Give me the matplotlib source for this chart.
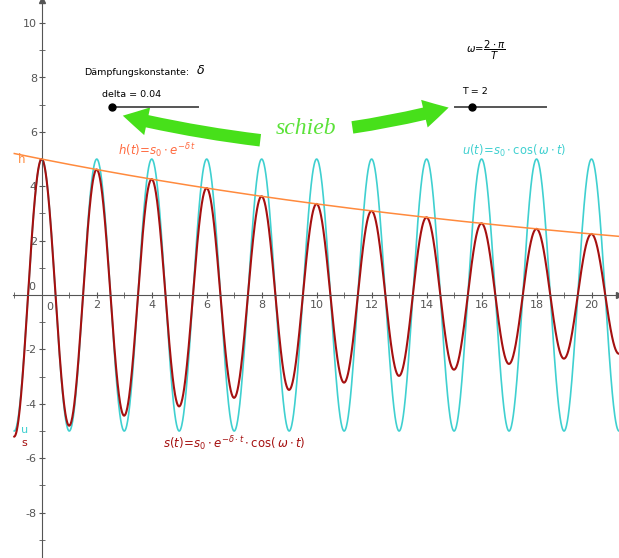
import numpy as np
import matplotlib.pyplot as plt
from matplotlib.patches import FancyArrowPatch

plt.rcParams["axes.unicode_minus"] = False

# Parameter (Schieberegler)
s0 = 5.0
delta = 0.04
T = 2
omega = 2 * np.pi / T

t_start, t_end = -1.0, 21.1
x_ticks = list(range(2, 21, 2))
y_ticks = [-8, -6, -4, -2, 2, 4, 6, 8, 10]

t = np.linspace(t_start, t_end, 2000)
h = s0 * np.exp(-delta * t)
u = s0 * np.cos(omega * t)
s = h * np.cos(omega * t)

cyan = "#3fd0d0"
red = "#a51010"
orange = "#ff8a3d"
green = "#47e01a"
grey = "#555555"

fig = plt.figure(figsize=(6.19, 5.58), dpi=100)
ax = fig.add_axes([0, 0, 1, 1])
ax.set_xlim(-1.52, 21.0)
ax.set_ylim(-9.67, 10.85)

ax.plot(t, h, color=orange, lw=1.1, zorder=3)
ax.plot(t, u, color=cyan, lw=1.2, zorder=2)
ax.plot(t, s, color=red, lw=1.5, zorder=2)

# Achsen durch den Ursprung
for side in ["top", "right"]:
    ax.spines[side].set_visible(False)
ax.spines["left"].set_position(("data", 0))
ax.spines["bottom"].set_position(("data", 0))
ax.spines["left"].set_color(grey)
ax.spines["bottom"].set_color(grey)
ax.spines["bottom"].set_bounds(-1.05, 20.9)
ax.set_xticks(x_ticks)
ax.set_xticks(list(range(-1, 21, 2)), minor=True)
ax.set_yticks(y_ticks)
ax.set_yticks(list(range(-9, 11, 2)), minor=True)
ax.tick_params(which="both", direction="inout", colors=grey, labelsize=8)
ax.tick_params(which="major", length=5, pad=1)
ax.tick_params(which="minor", length=4)
ax.plot(1, 0, ">", color=grey, ms=4, transform=ax.get_yaxis_transform(), clip_on=False)
ax.plot(0, 1, "^", color=grey, ms=4, transform=ax.get_xaxis_transform(), clip_on=False)
ax.text(-0.25, 0.1, "0", color=grey, fontsize=8, ha="right", va="bottom")
ax.text(0.28, -0.25, "0", color=grey, fontsize=8, ha="center", va="top")

# Schieberegler
ax.text(1.55, 8.2, "Dämpfungskonstante:", fontsize=6.8, va="center")
ax.text(5.6, 8.25, r"$\delta$", fontsize=9, va="center")
ax.text(2.2, 7.38, "delta = 0.04", fontsize=6.8, va="center")
ax.plot([2.5, 5.7], [6.91, 6.91], color=grey, lw=1.4)
ax.plot(2.57, 6.91, "o", color="black", ms=5)

ax.text(15.45, 9.0, r"$\omega\!=\!\dfrac{2\cdot\pi}{T}$", fontsize=7.3, va="center")
ax.text(15.28, 7.48, "T = 2", fontsize=6.8, va="center")
ax.plot([15.05, 18.35], [6.91, 6.91], color=grey, lw=1.4)
ax.plot(15.65, 6.91, "o", color="black", ms=5)

# Pfeile "schieb"
ax.add_patch(FancyArrowPatch((8.05, 5.68), (2.85, 6.62), connectionstyle="arc3,rad=-0.03",
                             arrowstyle="simple,head_width=1.7,head_length=1.5,tail_width=0.75",
                             mutation_scale=12, color=green, lw=0))
ax.add_patch(FancyArrowPatch((11.2, 6.15), (14.9, 6.92), connectionstyle="arc3,rad=0.03",
                             arrowstyle="simple,head_width=1.7,head_length=1.5,tail_width=0.75",
                             mutation_scale=12, color=green, lw=0))
ax.text(9.6, 6.12, "schieb", color="#5ce23a", fontsize=17, family="Liberation Serif",
        style="italic", ha="center", va="center")

# Funktionsbeschriftungen
ax.text(2.78, 5.3, r"$h(t)\!=\!s_0\cdot e^{-\delta\, t}$", color="#ff6a40", fontsize=8.5, va="center")
ax.text(15.3, 5.3, r"$u(t)\!=\!s_0\cdot\cos(\,\omega\cdot t)$", color=cyan, fontsize=8.3, va="center")
ax.text(4.4, -5.45, r"$s(t)\!=\!s_0\cdot e^{-\delta\cdot t}\cdot\cos(\,\omega\cdot t)$", color=red,
        fontsize=8.5, va="center")
ax.text(-0.88, 4.98, "h", color=orange, fontsize=8.5, va="center")
ax.text(-0.75, -4.95, "u", color=cyan, fontsize=8, va="center")
ax.text(-0.75, -5.45, "s", color=red, fontsize=8, va="center")

fig.savefig("out.png", dpi=100)
